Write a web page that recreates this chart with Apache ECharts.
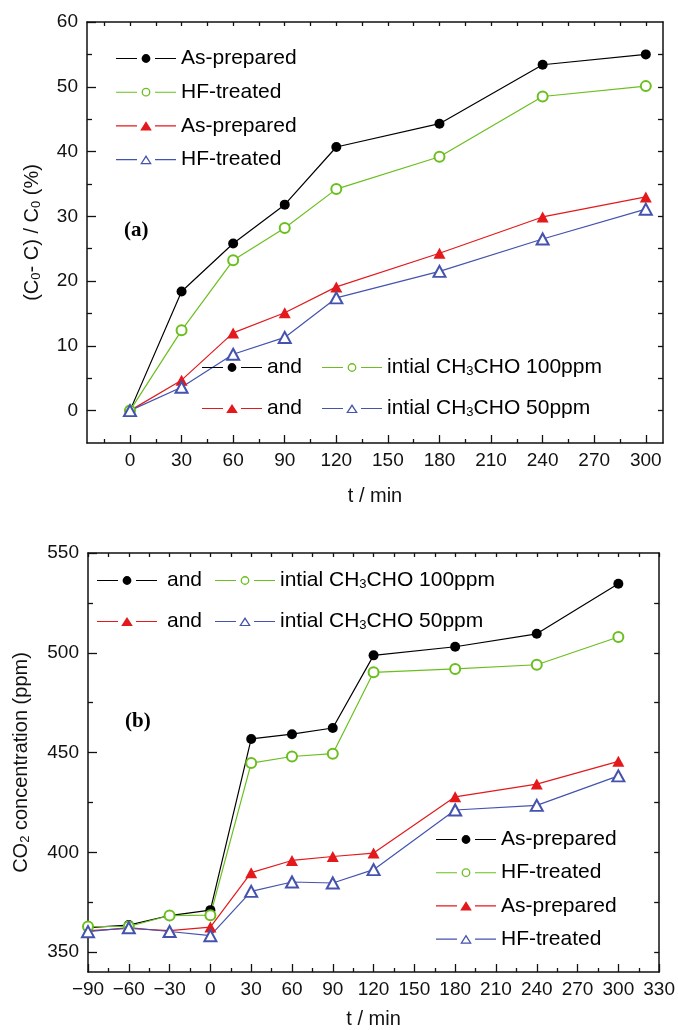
<!DOCTYPE html>
<html><head><meta charset="utf-8">
<script src="https://cdn.jsdelivr.net/npm/echarts@6/dist/echarts.min.js"></script>
<style>html,body{margin:0;padding:0;background:#fff}#c{width:678px;height:1030px}</style>
</head><body><div id="c"></div>
<script>
// ---- data: panel (a) removal percentage ----
const timesA = [0, 30, 60, 90, 120, 180, 240, 300];
const asPrepared100A = [0, 18.4, 25.8, 31.8, 40.7, 44.3, 53.4, 55.0];
const hfTreated100A  = [0, 12.4, 23.2, 28.2, 34.2, 39.2, 48.5, 50.1];
const asPrepared50A  = [0, 4.7, 12.0, 15.1, 19.1, 24.3, 29.9, 33.0];
const hfTreated50A   = [0, 3.6, 8.7, 11.3, 17.4, 21.5, 26.5, 31.1];

// ---- data: panel (b) CO2 concentration ----
const timesB = [-90, -60, -30, 0, 30, 60, 90, 120, 180, 240, 300];
const asPrepared100B = [362.2, 363.5, 368.3, 371.0, 456.8, 459.2, 462.3, 498.7, 503.0, 509.5, 534.6];
const hfTreated100B  = [362.8, 362.8, 368.3, 368.5, 444.7, 448.0, 449.4, 490.2, 491.9, 494.0, 507.9];
const asPrepared50B  = [360.7, 361.8, 360.7, 362.5, 389.8, 395.9, 397.9, 399.6, 427.8, 434.2, 445.6];
const hfTreated50B   = [360.2, 362.2, 360.3, 358.2, 380.4, 385.1, 384.6, 391.3, 421.2, 423.5, 438.3];

// ---- tick values ----
const xTicksA = [0, 30, 60, 90, 120, 150, 180, 210, 240, 270, 300];
const xMinorA = [-15, 15, 45, 75, 105, 135, 165, 195, 225, 255, 285];
const xTopA = [-15, 0, 15, 30, 45, 60, 75, 90, 105, 120, 135, 150, 165, 180, 195, 210, 225, 240, 255, 270, 285, 300];
const yTicksA = [0, 10, 20, 30, 40, 50, 60];
const yMinorA = [5, 15, 25, 35, 45, 55];
const yRightA = [0, 5, 10, 15, 20, 25, 30, 35, 40, 45, 50, 55];
const yTicksB = [350, 400, 450, 500, 550];
const yMinorB = [375, 425, 475, 525];
const yRightB = [350, 375, 400, 425, 450, 475, 500, 525];

// ---- legend labels ----
const legendNames = {
  asp100: 'As-prepared', hf100: 'HF-treated', asp50: 'As-prepared', hf50: 'HF-treated'
};
const legendPairNames = {
  asp100: '{a|and}', hf100: '{a|intial CH}{s|3}{a|CHO 100ppm}',
  asp50: '{a|and}', hf50: '{a|intial CH}{s|3}{a|CHO 50ppm}'
};

const FONT = 'Liberation Sans';
const C_BLACK = '#000000', C_GREEN = '#6abf1e', C_RED = '#e3191c', C_BLUE = '#4453ae';

// legend icon shapes, drawn in a 60 x 20 box (centre line y = 10)
const BOUNDS = 'M0 0L0 0Z M60 20L60 20Z ';
const LINES = 'M0 9.45L21 9.45L21 10.55L0 10.55Z M39 9.45L60 9.45L60 10.55L39 10.55Z ';
const CIRC = 'M25.6 10A4.4 4.4 0 0 1 34.4 10A4.4 4.4 0 0 1 25.6 10Z ';
const CIRC_IN = 'M26.9 10A3.1 3.1 0 0 0 33.1 10A3.1 3.1 0 0 0 26.9 10Z ';
const TRI = 'M30 5.4L35.8 14.6L24.2 14.6Z ';
const TRI_IN = 'M30 8.0L26.4 13.4L33.6 13.4Z ';
const icons = {
  asp100: 'path://' + BOUNDS + LINES + CIRC,
  hf100: 'path://' + BOUNDS + LINES + CIRC + CIRC_IN,
  asp50: 'path://' + BOUNDS + LINES + TRI,
  hf50: 'path://' + BOUNDS + LINES + TRI + TRI_IN
};
const colors = {asp100: C_BLACK, hf100: C_GREEN, asp50: C_RED, hf50: C_BLUE};

function legendItem(n) {
  return {name: n, icon: icons[n], itemStyle: {color: colors[n], borderWidth: 0}};
}
const richText = {
  a: {fontSize: 21, fontFamily: FONT, color: '#000', lineHeight: 20, verticalAlign: 'middle'},
  s: {fontSize: 13, fontFamily: FONT, color: '#000', lineHeight: 13, verticalAlign: 'bottom'}
};
function legend(names, left, top, gap, fmt, extraPad) {
  return {
    orient: 'vertical', left: left, top: top, padding: 0, itemGap: gap,
    itemWidth: 60, itemHeight: 20, selectedMode: false,
    data: names.map(legendItem),
    formatter: fmt,
    textStyle: {fontSize: 21, fontFamily: FONT, color: '#000', lineHeight: 20, rich: richText,
      padding: [0, 0, 0, extraPad || 0]}
  };
}

const axisLineStyle = {show: true, onZero: false, lineStyle: {color: '#111', width: 1.5}};
const noLine = {show: false, onZero: false};
const tickStyle = {color: '#111', width: 1.3};
const labelStyle = {fontSize: 19, fontFamily: FONT, color: '#111'};

function mk(x, y) { return x.map((v, i) => [v, y[i]]); }
function series(name, xs, ys, xi, yi, kind) {
  const o = {
    name: name, type: 'line', xAxisIndex: xi, yAxisIndex: yi,
    data: mk(xs, ys), color: colors[name],
    lineStyle: {width: 1.2, color: colors[name]},
    emphasis: {disabled: true}, animation: false
  };
  if (kind === 'circle') { o.symbol = 'circle'; o.symbolSize = 10; }
  if (kind === 'ecircle') { o.symbol = 'emptyCircle'; o.symbolSize = 10; o.itemStyle = {borderWidth: 1.5}; }
  if (kind === 'tri') { o.symbol = 'triangle'; o.symbolSize = [12, 11]; }
  if (kind === 'etri') { o.symbol = 'emptyTriangle'; o.symbolSize = [12, 11]; o.itemStyle = {borderWidth: 1.4}; }
  return o;
}

const option = {
  animation: false,
  backgroundColor: '#fff',
  grid: [
    {left: 87, top: 22, right: 15, height: 421},
    {left: 88, top: 553, right: 16, height: 421}
  ],
  xAxis: [
    // panel a
    {gridIndex: 0, type: 'value', min: -25, max: 310, position: 'bottom',
      axisLine: axisLineStyle, splitLine: {show: false},
      axisTick: {inside: true, length: 8, customValues: xTicksA, lineStyle: tickStyle},
      axisLabel: Object.assign({customValues: xTicksA, margin: 8}, labelStyle),
      name: 't / min', nameLocation: 'middle', nameGap: 43,
      nameTextStyle: {fontSize: 20, fontFamily: FONT, color: '#111'}},
    {gridIndex: 0, type: 'value', min: -25, max: 310, position: 'bottom',
      axisLine: noLine, splitLine: {show: false}, axisLabel: {show: false},
      axisTick: {inside: true, length: 4, customValues: xMinorA, lineStyle: tickStyle}},
    {gridIndex: 0, type: 'value', min: -25, max: 310, position: 'top',
      axisLine: axisLineStyle, splitLine: {show: false}, axisLabel: {show: false},
      axisTick: {inside: true, length: 4, customValues: xTopA, lineStyle: tickStyle}},
    // panel b
    {gridIndex: 1, type: 'value', min: -90, max: 330, interval: 30, position: 'bottom',
      axisLine: axisLineStyle, splitLine: {show: false},
      axisTick: {inside: true, length: 8, lineStyle: tickStyle},
      minorTick: {show: true, splitNumber: 2, length: 4, lineStyle: tickStyle},
      minorSplitLine: {show: false},
      axisLabel: Object.assign({margin: 8, formatter: v => String(v).replace('-', '\u2212')}, labelStyle),
      name: 't / min', nameLocation: 'middle', nameGap: 37,
      nameTextStyle: {fontSize: 20, fontFamily: FONT, color: '#111'}},
    {gridIndex: 1, type: 'value', min: -90, max: 330, interval: 15, position: 'top',
      axisLine: axisLineStyle, splitLine: {show: false}, axisLabel: {show: false},
      axisTick: {inside: true, length: 4, lineStyle: tickStyle}}
  ],
  yAxis: [
    // panel a
    {gridIndex: 0, type: 'value', min: -5, max: 60, position: 'left',
      axisLine: axisLineStyle, splitLine: {show: false},
      axisTick: {inside: true, length: 9, customValues: yTicksA, lineStyle: tickStyle},
      axisLabel: Object.assign({customValues: yTicksA, margin: 9}, labelStyle),
      name: '{a|(C}{s|0}{a|- C) / C}{s|0}{a| (%)}', nameLocation: 'middle', nameGap: 44,
      nameTextStyle: {fontSize: 20, fontFamily: FONT, color: '#111', rich: {
        a: {fontSize: 20, fontFamily: FONT, color: '#111', lineHeight: 22},
        s: {fontSize: 13, fontFamily: FONT, color: '#111', lineHeight: 13, verticalAlign: 'bottom'}}}},
    {gridIndex: 0, type: 'value', min: -5, max: 60, position: 'left',
      axisLine: noLine, splitLine: {show: false}, axisLabel: {show: false},
      axisTick: {inside: true, length: 5, customValues: yMinorA, lineStyle: tickStyle}},
    {gridIndex: 0, type: 'value', min: -5, max: 60, position: 'right',
      axisLine: axisLineStyle, splitLine: {show: false}, axisLabel: {show: false},
      axisTick: {inside: true, length: 5, customValues: yRightA, lineStyle: tickStyle}},
    // panel b
    {gridIndex: 1, type: 'value', min: 340, max: 550, position: 'left',
      axisLine: axisLineStyle, splitLine: {show: false},
      axisTick: {inside: true, length: 9, customValues: yTicksB, lineStyle: tickStyle},
      axisLabel: Object.assign({customValues: yTicksB, margin: 9}, labelStyle),
      name: '{a|CO}{s|2}{a| concentration (ppm)}', nameLocation: 'middle', nameGap: 56,
      nameTextStyle: {fontSize: 20, fontFamily: FONT, color: '#111', rich: {
        a: {fontSize: 20, fontFamily: FONT, color: '#111', lineHeight: 22},
        s: {fontSize: 13, fontFamily: FONT, color: '#111', lineHeight: 13, verticalAlign: 'bottom'}}}},
    {gridIndex: 1, type: 'value', min: 340, max: 550, position: 'left',
      axisLine: noLine, splitLine: {show: false}, axisLabel: {show: false},
      axisTick: {inside: true, length: 5, customValues: yMinorB, lineStyle: tickStyle}},
    {gridIndex: 1, type: 'value', min: 340, max: 550, position: 'right',
      axisLine: axisLineStyle, splitLine: {show: false}, axisLabel: {show: false},
      axisTick: {inside: true, length: 5, customValues: yRightB, lineStyle: tickStyle}}
  ],
  legend: [
    legend(['asp100', 'hf100', 'asp50', 'hf50'], 116, 48, 12.7, n => legendNames[n]),
    legend(['asp100', 'asp50'], 202, 357, 20, n => legendPairNames[n]),
    legend(['hf100', 'hf50'], 322, 357, 20, n => legendPairNames[n]),
    legend(['asp100', 'asp50'], 97, 570, 20, n => legendPairNames[n], 5),
    legend(['hf100', 'hf50'], 215, 570, 20, n => legendPairNames[n]),
    legend(['asp100', 'hf100', 'asp50', 'hf50'], 436, 829, 12.2, n => legendNames[n])
  ],
  graphic: [
    {type: 'text', left: 124, top: 220, style: {text: '(a)', font: 'bold 21px "Liberation Serif"', fill: '#000'}},
    {type: 'text', left: 125, top: 711, style: {text: '(b)', font: 'bold 21px "Liberation Serif"', fill: '#000'}}
  ],
  series: [
    series('asp100', timesA, asPrepared100A, 0, 0, 'circle'),
    series('hf100', timesA, hfTreated100A, 0, 0, 'ecircle'),
    series('asp50', timesA, asPrepared50A, 0, 0, 'tri'),
    series('hf50', timesA, hfTreated50A, 0, 0, 'etri'),
    series('asp100', timesB, asPrepared100B, 3, 3, 'circle'),
    series('hf100', timesB, hfTreated100B, 3, 3, 'ecircle'),
    series('asp50', timesB, asPrepared50B, 3, 3, 'tri'),
    series('hf50', timesB, hfTreated50B, 3, 3, 'etri')
  ]
};
const chart = echarts.init(document.getElementById('c'), null, {renderer: 'canvas'});
chart.setOption(option);
</script>
</body></html>
